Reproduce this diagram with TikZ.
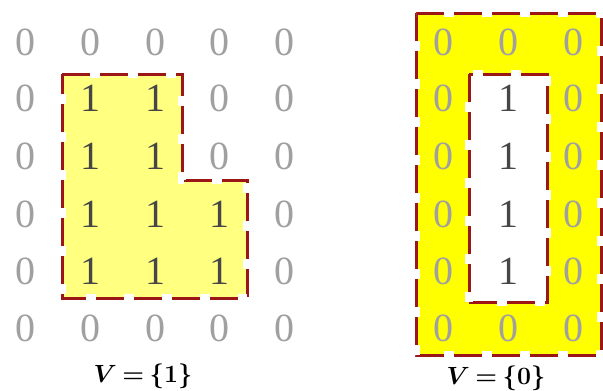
\documentclass[tikz,border=0pt]{standalone}
\usepackage{fontspec}
\setmainfont{Liberation Serif}
\usepackage{amsmath,bm}
\definecolor{edgered}{RGB}{155,22,22}
\definecolor{paleyellow}{RGB}{255,255,128}
\definecolor{brightyellow}{RGB}{255,255,0}
\definecolor{zerogray}{RGB}{160,160,160}
\definecolor{onegray}{RGB}{70,70,70}
\tikzset{
  zero/.style={text=zerogray, font=\fontsize{40}{40}\selectfont, inner sep=0pt},
  one/.style={text=onegray, font=\fontsize{40}{40}\selectfont, inner sep=0pt},
  redborder/.style={draw=edgered, line width=3, dash pattern=on 28 off 10, line join=miter},
  gapborder/.style={draw=white, line width=8, dash pattern=on 10 off 28, dash phase=10},
  caption/.style={font=\fontsize{24}{24}\selectfont, inner sep=0pt}
}
\newcommand{\capeq}[1]{$\bm{V}\mkern4mu{\boldsymbol{=}}\mkern4mu\boldsymbol{\{#1\}}$}
\begin{document}
\begin{tikzpicture}[x=1pt,y=-1pt]
\useasboundingbox (0,0) rectangle (603,391);

% left grid: region of ones
\fill[paleyellow] (62,74) -- (182,74) -- (182,180) -- (247,180) -- (247,298) -- (62,298) -- cycle;
\draw[redborder] (62,74) -- (182,74) -- (182,180) -- (247,180) -- (247,298) -- (62,298) -- cycle;
\draw[gapborder] (62,74) -- (182,74) -- (182,180) -- (247,180) -- (247,298) -- (62,298) -- cycle;

% right grid: ring of zeros around the ones
\fill[brightyellow] (416,13) rectangle (601,355);
\fill[white] (469,74) rectangle (547,302);
\draw[redborder] (416,13) rectangle (601,355);
\draw[gapborder] (416,13) rectangle (601,355);
\draw[redborder] (469,74) rectangle (547,302);
\draw[gapborder] (469,74) rectangle (547,302);

% left grid digits
\foreach \r/\y in {1/42,2/98,3/156,4/214,5/271,6/328}{
  \foreach \c/\x in {1/26,2/90,3/155,4/219,5/284}{
    \node[zero] (L\r\c) at (\x,\y) {0};
  }
}
\foreach \r/\y/\cols in {2/98/{2/90,3/155},3/156/{2/90,3/155},4/214/{2/90,3/155,4/219},5/271/{2/90,3/155,4/219}}{
  \foreach \c/\x in \cols{
    \node[one, fill=paleyellow, minimum width=30pt, minimum height=34pt] (L\r\c one) at (\x,\y) {1};
  }
}

% right grid digits
\foreach \r/\y in {1/42,2/98,3/156,4/214,5/271,6/328}{
  \node[zero] (R\r1) at (443,\y) {0};
  \node[zero] (R\r3) at (573,\y) {0};
}
\node[zero] (R12) at (508,42) {0};
\node[zero] (R62) at (508,328) {0};
\foreach \r/\y in {2/98,3/156,4/214,5/271}{
  \node[one] (R\r2) at (508,\y) {1};
}

% captions
\node[caption] (capL) at (143,376) {\capeq{1}};
\node[caption] (capR) at (496,378) {\capeq{0}};
\end{tikzpicture}
\end{document}
